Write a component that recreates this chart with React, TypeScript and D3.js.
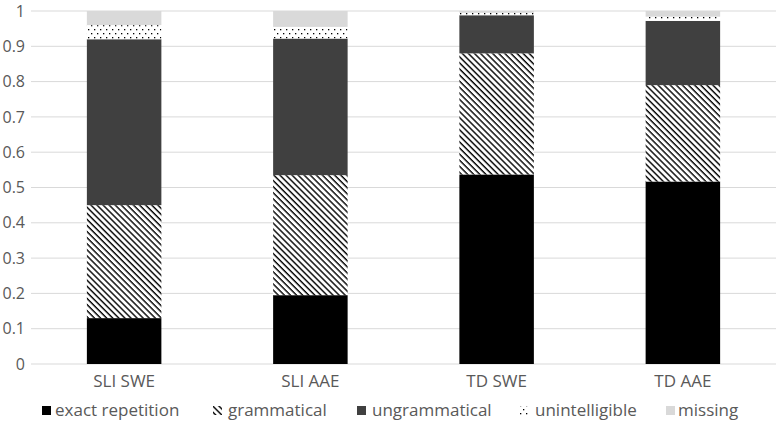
import React from "react";
import * as d3 from "d3";

const categories = ["SLI SWE", "SLI AAE", "TD SWE", "TD AAE"];
const seriesNames = ["exact repetition", "grammatical", "ungrammatical", "unintelligible", "missing"];
const exactRepetition = [0.13, 0.195, 0.537, 0.517];
const grammatical = [0.32, 0.34, 0.343, 0.273];
const ungrammatical = [0.47, 0.387, 0.108, 0.182];
const unintelligible = [0.04, 0.033, 0.007, 0.012];
const missing = [0.04, 0.045, 0.005, 0.016];
const yTicks = [0, 0.1, 0.2, 0.3, 0.4, 0.5, 0.6, 0.7, 0.8, 0.9, 1];

const seriesValues = [exactRepetition, grammatical, ungrammatical, unintelligible, missing];
const fills = ["#000000", "url(#hatch)", "#404040", "url(#dots)", "#d9d9d9"];
const FONT = "'Open Sans', Lato, sans-serif";

export default function App() {
  const W = 780, H = 422;
  const x = d3.scaleBand<string>().domain(categories).range([31, 776]).paddingInner(0.6).paddingOuter(0.3);
  const y = d3.scaleLinear().domain([0, 1]).range([364, 11]);

  const rows = categories.map((c, i) => {
    const r: any = { cat: c };
    seriesNames.forEach((s, k) => (r[s] = seriesValues[k][i]));
    return r;
  });
  const stacked = d3.stack<any>().keys(seriesNames)(rows);

  const legendMarkerX = [42, 213, 357, 519, 666];
  const legendTextX = [55, 228, 372, 535, 678];

  return (
    <svg width={W} height={H} style={{ position: "absolute", left: 0, top: 0 }}>
      <defs>
        <pattern id="hatch" patternUnits="userSpaceOnUse" width="4.3" height="4.3" patternTransform="rotate(-45)">
          <rect width="4.3" height="4.3" fill="#fff" />
          <line x1="1" y1="0" x2="1" y2="4.3" stroke="#000" strokeWidth="1.4" />
        </pattern>
        <pattern id="dots" patternUnits="userSpaceOnUse" width="6" height="8">
          <rect width="6" height="8" fill="#fff" />
          <rect x="1" y="1" width="1.3" height="1.3" fill="#000" />
          <rect x="4" y="5" width="1.3" height="1.3" fill="#000" />
        </pattern>
      </defs>
      <rect width={W} height={H} fill="#fff" />
      {yTicks.map((t) => (
        <g key={t}>
          <line x1={31} x2={776} y1={y(t)} y2={y(t)} stroke="#d9d9d9" strokeWidth={1} />
          <text x={25} y={y(t)} dy="0.35em" textAnchor="end" fontFamily={FONT} fontSize={16} fill="#595959">
            {String(t)}
          </text>
        </g>
      ))}
      {stacked.map((layer, k) => (
        <g key={layer.key}>
          {layer.map((d, i) => (
            <rect
              key={i}
              x={x(categories[i])}
              width={x.bandwidth()}
              y={y(d[1])}
              height={Math.max(0, y(d[0]) - y(d[1]))}
              fill={fills[k]}
            />
          ))}
        </g>
      ))}
      {categories.map((c) => (
        <text key={c} x={(x(c) as number) + x.bandwidth() / 2} y={381} dy="0.35em" textAnchor="middle" fontFamily={FONT} fontSize={17} fill="#595959">
          {c}
        </text>
      ))}
      {seriesNames.map((s, k) => (
        <g key={s}>
          <rect x={legendMarkerX[k]} y={406} width={9} height={9} fill={fills[k]} />
          <text x={legendTextX[k]} y={410.5} dy="0.35em" fontFamily={FONT} fontSize={17} fill="#595959">
            {s}
          </text>
        </g>
      ))}
    </svg>
  );
}
